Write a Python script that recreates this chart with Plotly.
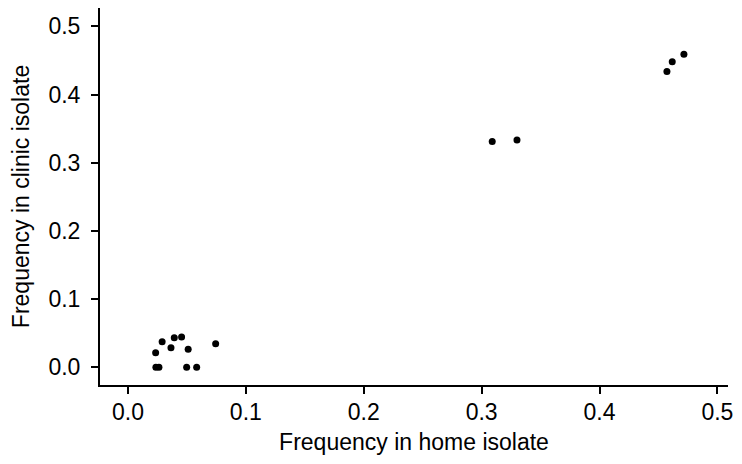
import plotly.graph_objects as go

home_freq = [0.0237, 0.0263, 0.0498, 0.0583, 0.0235, 0.029, 0.0365, 0.0393, 0.0455, 0.0511, 0.0744,
             0.309, 0.330, 0.4572, 0.4617, 0.4716]
clinic_freq = [0.0, 0.0, 0.0, 0.0, 0.0214, 0.0375, 0.0287, 0.0434, 0.0444, 0.0264, 0.0346,
               0.331, 0.3333, 0.434, 0.448, 0.459]
tick_vals = [0.0, 0.1, 0.2, 0.3, 0.4, 0.5]
tick_text = ["0.0", "0.1", "0.2", "0.3", "0.4", "0.5"]

fig = go.Figure(go.Scatter(
    x=home_freq, y=clinic_freq, mode="markers",
    marker=dict(color="black", size=7),
    cliponaxis=False,
))

font = dict(family="Liberation Sans, Arial, sans-serif", size=23, color="black")
axis_common = dict(
    showline=True, linecolor="black", linewidth=2, showgrid=False, zeroline=False,
    ticks="outside", ticklen=7, tickwidth=1.5, tickcolor="black",
    tickvals=tick_vals, ticktext=tick_text, tickfont=font, automargin=False,
)
fig.update_layout(
    width=734, height=456,
    margin=dict(l=92, r=14, t=0, b=79),
    plot_bgcolor="white", paper_bgcolor="white",
    showlegend=False,
    font=font,
    xaxis=dict(range=[-0.0237, 0.509], ticklabelstandoff=-2,
               title=dict(text="Frequency in home isolate", font=font, standoff=10), **axis_common),
    yaxis=dict(range=[-0.026, 0.527], ticklabelstandoff=6,
               title=dict(text="Frequency in clinic isolate", font=font, standoff=20), **axis_common),
)
fig.write_html("out.html")
